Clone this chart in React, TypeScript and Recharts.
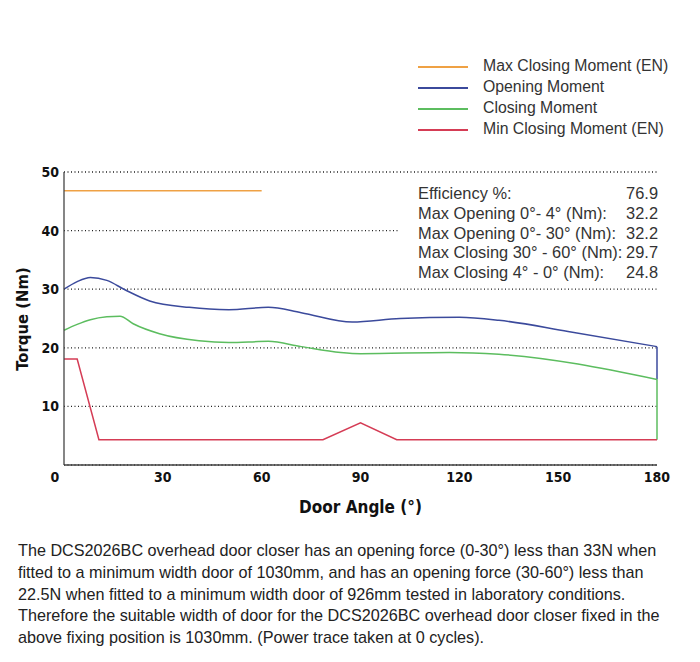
import { LineChart, Line, XAxis, YAxis, CartesianGrid } from "recharts";

// Door angle (deg) / torque (Nm) pairs
const maxClosingAngles = [0, 60];
const maxClosingValues = [46.8, 46.8];

const openingAngles = [0, 4, 8, 13, 18.5, 26, 38, 50, 62, 72, 87.5, 102, 120, 132, 153, 180];
const openingValues = [30, 31.3, 32, 31.5, 29.9, 28, 26.9, 26.5, 26.9, 26, 24.4, 25, 25.2, 24.7, 22.8, 20.2];

const closingAngles = [0, 4, 8, 13, 17, 21, 29, 41, 50, 62, 72, 84, 90, 117, 132, 180];
const closingValues = [23, 24, 24.8, 25.3, 25.4, 24.1, 22.4, 21.2, 20.9, 21.1, 20.2, 19.2, 19, 19.2, 18.9, 14.6];

const minClosingAngles = [0, 4, 10.6, 78.6, 90, 101, 180];
const minClosingValues = [18.1, 18.1, 4.3, 4.3, 7.2, 4.3, 4.3];

// vertical drops at the 180° end
const openingDropValues = [20.2, 14.6];
const closingDropValues = [14.6, 4.3];

const xTicks = [0, 30, 60, 90, 120, 150, 180];
const yTicks = [10, 20, 30, 40, 50];

const legendItems = [
  { label: "Max Closing Moment (EN)", color: "#EFA144" },
  { label: "Opening Moment", color: "#3B4A9C" },
  { label: "Closing Moment", color: "#5CBD5F" },
  { label: "Min Closing Moment (EN)", color: "#D53C55" },
];

const statLabels = [
  "Efficiency %:",
  "Max Opening 0°- 4° (Nm):",
  "Max Opening 0°- 30° (Nm):",
  "Max Closing 30° - 60° (Nm):",
  "Max Closing 4° - 0° (Nm):",
];
const statValues = ["76.9", "32.2", "32.2", "29.7", "24.8"];

const noteLines = [
  "The DCS2026BC overhead door closer has an opening force (0-30°) less than 33N when",
  "fitted to a minimum width door of 1030mm, and has an opening force (30-60°) less than",
  "22.5N when fitted to a minimum width door of 926mm tested in laboratory conditions.",
  "Therefore the suitable width of door for the DCS2026BC overhead door closer fixed in the",
  "above fixing position is 1030mm. (Power trace taken at 0 cycles).",
];

const toPoints = (xs: number[], ys: number[]) => xs.map((x, i) => ({ x, y: ys[i] }));

const maxClosing = toPoints(maxClosingAngles, maxClosingValues);
const opening = toPoints(openingAngles, openingValues);
const closing = toPoints(closingAngles, closingValues);
const minClosing = toPoints(minClosingAngles, minClosingValues);
const openingDrop = toPoints([180, 180], openingDropValues);
const closingDrop = toPoints([180, 180], closingDropValues);

const axisFont = "'DejaVu Sans Condensed', 'Liberation Sans Narrow', sans-serif";
const textFont = "'Liberation Sans', Arial, sans-serif";

const XTick = ({ x, y, payload }: any) => (
  <text
    x={payload.value === 0 ? x - 9 : x}
    y={y}
    dy="0.71em"
    textAnchor="middle"
    fontFamily={axisFont}
    fontWeight="bold"
    fontSize={14}
    fill="#111"
  >
    {payload.value}
  </text>
);

export default function App() {
  return (
    <div style={{ position: "relative", width: 684, height: 646 }}>
      <LineChart
        width={684}
        height={520}
        margin={{ top: 164, right: 35, bottom: 3, left: 0 }}
      >
        <CartesianGrid
          vertical={false}
          stroke="#222"
          strokeDasharray="1 2.5"
          strokeWidth={1.3}
        />
        <XAxis
          type="number"
          dataKey="x"
          domain={[0, 180]}
          ticks={xTicks}
          tick={<XTick />}
          tickLine={false}
          tickSize={0}
          tickMargin={7}
          height={60}
          stroke="#444"
          strokeWidth={1.3}
          label={{
            value: "Door Angle (°)",
            position: "insideBottom",
            offset: 12,
            style: {
              fontFamily: axisFont,
              fontWeight: "bold",
              fontSize: 17,
              fill: "#111",
            },
          }}
        />
        <YAxis
          type="number"
          dataKey="y"
          domain={[0, 50]}
          ticks={yTicks}
          width={56}
          tickLine={false}
          tickSize={0}
          tickMargin={5}
          stroke="#444"
          strokeWidth={1.3}
          tick={{ fontFamily: axisFont, fontWeight: "bold", fontSize: 14, fill: "#111" }}
          label={{
            content: () => (
              <text
                x={14}
                y={311}
                transform="rotate(-90 14 311)"
                textAnchor="middle"
                dominantBaseline="central"
                fontFamily={axisFont}
                fontWeight="bold"
                fontSize={16.5}
                fill="#111"
              >
                Torque (Nm)
              </text>
            ),
          }}
        />
        <Line data={maxClosing} dataKey="y" type="linear" stroke="#EFA144" strokeWidth={1.5} dot={false} isAnimationActive={false} />
        <Line data={opening} dataKey="y" type="monotone" stroke="#3B4A9C" strokeWidth={1.5} dot={false} isAnimationActive={false} />
        <Line data={openingDrop} dataKey="y" type="linear" stroke="#3B4A9C" strokeWidth={1.5} dot={false} isAnimationActive={false} />
        <Line data={closing} dataKey="y" type="monotone" stroke="#5CBD5F" strokeWidth={1.5} dot={false} isAnimationActive={false} />
        <Line data={closingDrop} dataKey="y" type="linear" stroke="#5CBD5F" strokeWidth={1.5} dot={false} isAnimationActive={false} />
        <Line data={minClosing} dataKey="y" type="linear" stroke="#D53C55" strokeWidth={1.5} dot={false} isAnimationActive={false} />
      </LineChart>

      {/* legend */}
      {legendItems.map((item, i) => (
        <div key={item.label}>
          <div
            style={{
              position: "absolute",
              left: 410,
              top: 58 + i * 21,
              width: 50,
              height: 1.5,
              background: item.color,
            }}
          />
          <div
            style={{
              position: "absolute",
              left: 475,
              top: 48 + i * 21,
              lineHeight: "20px",
              fontFamily: textFont,
              fontSize: 15.8,
              color: "#333",
              whiteSpace: "nowrap",
            }}
          >
            {item.label}
          </div>
        </div>
      ))}

      {/* stats box (white panel hides the gridline behind it) */}
      <div
        style={{
          position: "absolute",
          left: 390,
          top: 174,
          width: 262,
          height: 104,
          background: "#fff",
        }}
      />
      {statLabels.map((label, i) => (
        <div
          key={label}
          style={{
            position: "absolute",
            left: 410,
            width: 240,
            top: 175 + i * 19.8,
            lineHeight: "20px",
            fontFamily: textFont,
            fontSize: 16.4,
            color: "#333",
            display: "flex",
            justifyContent: "space-between",
            whiteSpace: "nowrap",
          }}
        >
          <span>{label}</span>
          <span>{statValues[i]}</span>
        </div>
      ))}

      {/* note */}
      {noteLines.map((line, i) => (
        <div
          key={i}
          style={{
            position: "absolute",
            left: 10,
            top: 532 + i * 21.75,
            lineHeight: "21px",
            fontFamily: textFont,
            fontSize: 16.2,
            color: "#222",
            whiteSpace: "nowrap",
          }}
        >
          {line}
        </div>
      ))}
    </div>
  );
}
